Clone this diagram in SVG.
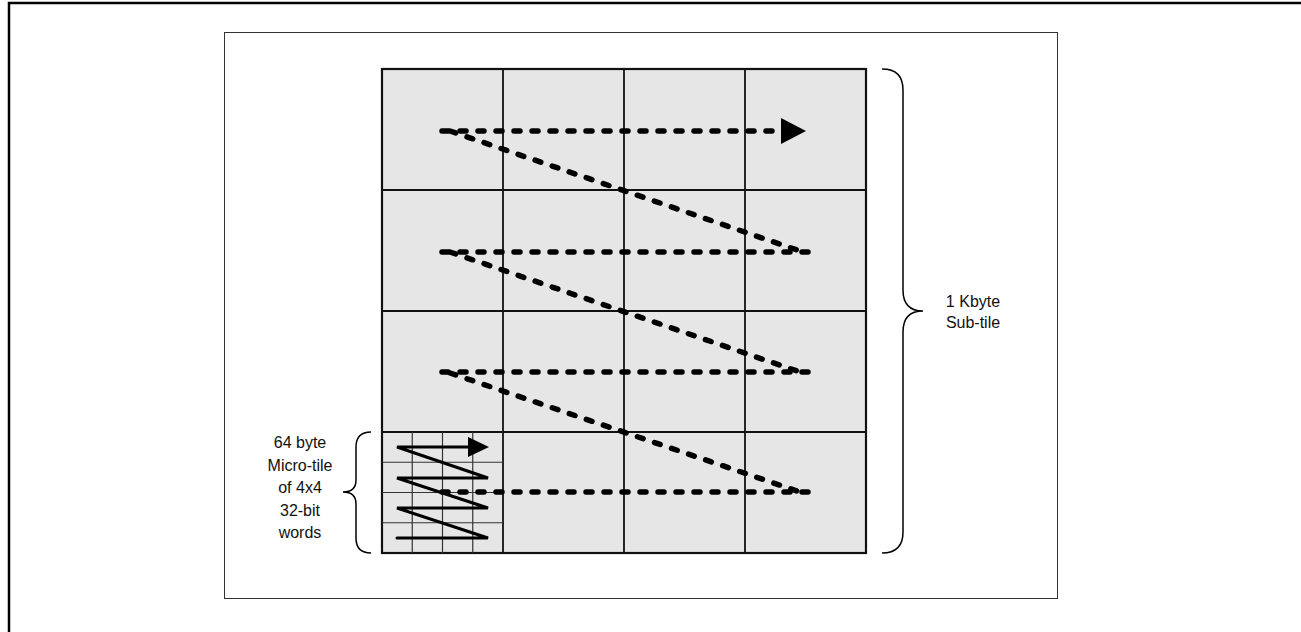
<svg xmlns="http://www.w3.org/2000/svg" width="1301" height="632" viewBox="0 0 1301 632">
<style>
  .lbl { font-family: "Liberation Sans", Arial, sans-serif; font-size: 16px; fill: #111; text-anchor: middle; }
  .mgrid { stroke: #333; stroke-width: 1.2; fill: none; }
  .dots { stroke: #000; stroke-width: 5.5; stroke-linecap: round; stroke-dasharray: 6 12; fill: none; }
  .brace { stroke: #000; stroke-width: 1.5; fill: none; }
</style>
<rect x="9" y="3" width="1400" height="700" fill="#fff" stroke="#000" stroke-width="2.5"/>
<rect x="224.5" y="32.5" width="833" height="566" fill="#fff" stroke="#333" stroke-width="1"/>

<g id="subtile">
  <rect x="382" y="69" width="484" height="484" fill="#e6e6e6" stroke="none"/>
  <g stroke="#111" stroke-width="1.8">
    <line x1="503" y1="69" x2="503" y2="553"/>
    <line x1="624" y1="69" x2="624" y2="553"/>
    <line x1="745" y1="69" x2="745" y2="553"/>
    <line x1="382" y1="190" x2="866" y2="190"/>
    <line x1="382" y1="311" x2="866" y2="311"/>
    <line x1="382" y1="432" x2="866" y2="432"/>
  </g>
  <rect x="382" y="69" width="484" height="484" fill="none" stroke="#111" stroke-width="2.2"/>
</g>

<g id="microtile">
  <g class="mgrid">
    <line x1="412.25" y1="432" x2="412.25" y2="553"/>
    <line x1="442.5" y1="432" x2="442.5" y2="553"/>
    <line x1="472.75" y1="432" x2="472.75" y2="553"/>
    <line x1="382" y1="462.25" x2="503" y2="462.25"/>
    <line x1="382" y1="492.5" x2="503" y2="492.5"/>
    <line x1="382" y1="522.75" x2="503" y2="522.75"/>
  </g>
  <polyline points="397,538 488,538 397,508 488,508 397,478 488,478 397,447 470,447" fill="none" stroke="#000" stroke-width="3" stroke-linejoin="miter" stroke-linecap="round"/>
  <polygon points="468,437 489,447 468,457" fill="#000"/>
</g>

<g id="connectors">
  <path class="dots" d="M442,131 L785,131"/>
  <polygon points="781,118 806,131 781,144" fill="#000"/>
  <path class="dots" d="M450,131 L800,251"/>
  <path class="dots" d="M442,252 L808,252"/>
  <path class="dots" d="M450,252 L800,372"/>
  <path class="dots" d="M442,372 L808,372"/>
  <path class="dots" d="M450,373 L800,492"/>
  <path class="dots" d="M442,492 L808,492"/>
</g>

<g id="subtile-brace">
  <path class="brace" d="M882,69 Q903,69 903,90 L903,290 Q903,311 923,311 Q903,311 903,332 L903,532 Q903,553 882,553"/>
  <text class="lbl" x="973" y="307">1 Kbyte</text>
  <text class="lbl" x="973" y="328">Sub-tile</text>
</g>

<g id="microtile-brace">
  <path class="brace" d="M371,432 Q356,432 356,447 L356,480 Q356,492 343,492 Q356,492 356,504 L356,538 Q356,553 371,553"/>
  <text class="lbl" x="300" y="448">64 byte</text>
  <text class="lbl" x="300" y="471">Micro-tile</text>
  <text class="lbl" x="300" y="493">of 4x4</text>
  <text class="lbl" x="300" y="516">32-bit</text>
  <text class="lbl" x="300" y="538">words</text>
</g>
</svg>
